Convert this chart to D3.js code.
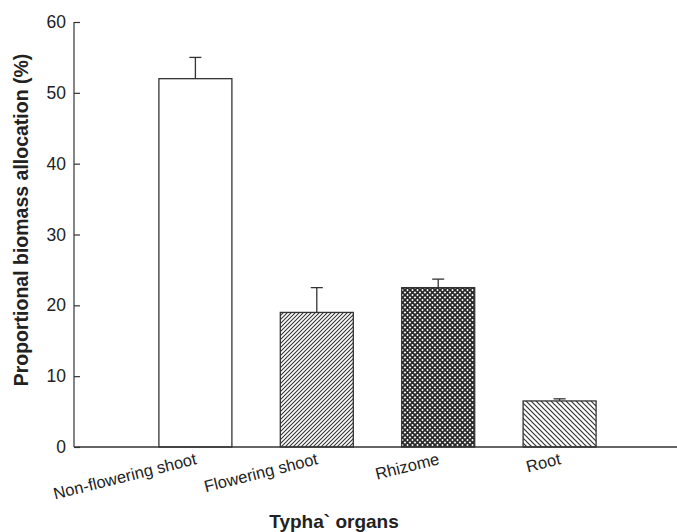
<!DOCTYPE html>
<html><head><meta charset="utf-8">
<script src="https://cdn.jsdelivr.net/npm/d3@7"></script>
<style>body{margin:0;background:#fff}svg{display:block}text{font-family:"Liberation Sans",Arial,sans-serif}</style>
</head><body><svg id="c" width="677" height="532"></svg>
<script>
const categories = ["Non-flowering shoot","Flowering shoot","Rhizome","Root"];
const values = [52.0, 19.0, 22.5, 6.5];
const errors = [3.0, 3.5, 1.2, 0.3];
const patterns = ["none","diagRight","cross","diagLeft"];
const yTicks = [0,10,20,30,40,50,60];

const svg = d3.select("#c");
const defs = svg.append("defs");
const c = "#333";
// hatch patterns
const p1 = defs.append("pattern").attr("id","diagRight").attr("patternUnits","userSpaceOnUse")
  .attr("width",4).attr("height",4);
p1.append("path").attr("d","M-1,1 l2,-2 M0,4 l4,-4 M3,5 l2,-2").attr("stroke",c).attr("stroke-width",1.1);
const p3 = defs.append("pattern").attr("id","diagLeft").attr("patternUnits","userSpaceOnUse")
  .attr("width",5).attr("height",5);
p3.append("path").attr("d","M-1,4 l2,2 M0,0 l5,5 M4,-1 l2,2").attr("stroke",c).attr("stroke-width",1.2);
const p2 = defs.append("pattern").attr("id","cross").attr("patternUnits","userSpaceOnUse")
  .attr("width",5).attr("height",5);
p2.append("rect").attr("width",5).attr("height",5).attr("fill","#fff");
p2.append("path").attr("d","M-1,-1 L6,6 M6,-1 L-1,6").attr("stroke","#2a2a2a").attr("stroke-width",1.8);

const x = d3.scaleLinear().domain([0,5]).range([74,681]);
const y = d3.scaleLinear().domain([0,60]).range([447,22]);
const bw = 73;

// y axis
const ya = svg.append("g").attr("transform","translate(74,0)")
  .call(d3.axisRight(y).tickValues(yTicks).tickSize(6).tickFormat(d3.format("d")));
ya.select(".domain").attr("d","M0,"+y(60)+"V"+y(0)).attr("stroke",c).attr("stroke-width",1.2);
ya.selectAll(".tick line").attr("stroke",c).attr("stroke-width",1.2);
ya.selectAll(".tick text").attr("x",-8).attr("text-anchor","end").attr("font-size",17.5).attr("fill","#222").attr("font-family","Liberation Sans, Arial, sans-serif");

// bars
const g = svg.append("g");
categories.forEach((cat,i)=>{
  const cx = x(i+1);
  g.append("rect").attr("x",cx-bw/2).attr("y",y(values[i])).attr("width",bw)
    .attr("height",y(0)-y(values[i]))
    .attr("fill",patterns[i]==="none"?"#fff":"url(#"+patterns[i]+")")
    .attr("stroke",c).attr("stroke-width",1.3);
  g.append("line").attr("x1",cx).attr("x2",cx).attr("y1",y(values[i])).attr("y2",y(values[i]+errors[i])).attr("stroke",c).attr("stroke-width",1.3);
  g.append("line").attr("x1",cx-6).attr("x2",cx+6).attr("y1",y(values[i]+errors[i])).attr("y2",y(values[i]+errors[i])).attr("stroke",c).attr("stroke-width",1.3);
});

// x axis baseline
svg.append("line").attr("x1",74).attr("x2",677).attr("y1",y(0)).attr("y2",y(0)).attr("stroke",c).attr("stroke-width",1.3);

// category labels
categories.forEach((cat,i)=>{
  const cx = x(i+1)+2;
  svg.append("text").attr("transform","translate("+cx+","+(y(0)+17)+") rotate(-14)")
    .attr("text-anchor","end").attr("font-size",16.5).attr("fill","#222").text(cat);
});

// titles
svg.append("text").attr("transform","translate(28,"+220+") rotate(-90)").attr("text-anchor","middle")
  .attr("font-size",19.5).attr("font-weight","bold").attr("fill","#222").text("Proportional biomass allocation (%)");
svg.append("text").attr("x",334).attr("y",528).attr("text-anchor","middle")
  .attr("font-size",19).attr("font-weight","bold").attr("fill","#222").text("Typha` organs");
</script></body></html>
